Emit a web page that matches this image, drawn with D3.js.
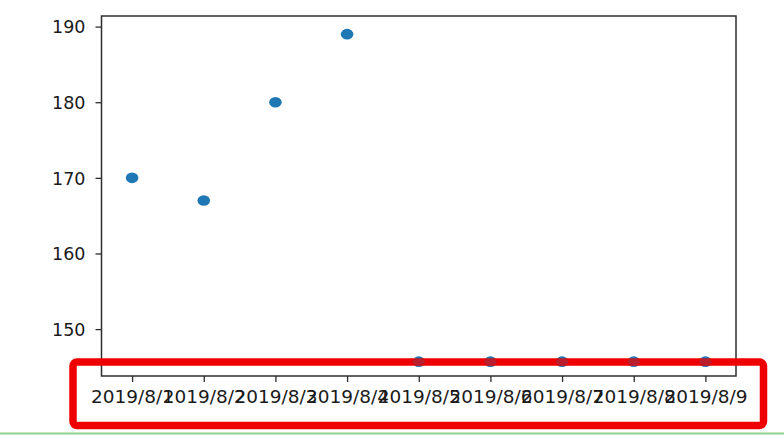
<!DOCTYPE html>
<html>
<head>
<meta charset="utf-8">
<script src="https://cdn.jsdelivr.net/npm/d3@7"></script>
<style>
  html, body { margin: 0; padding: 0; background: #fff; }
  svg { display: block; }
  text { font-family: "DejaVu Sans", sans-serif; }
</style>
</head>
<body>
<svg id="chart" width="784" height="435"></svg>
<script>
// ---- data ----
const dates = ["2019/8/1", "2019/8/2", "2019/8/3", "2019/8/4", "2019/8/5",
               "2019/8/6", "2019/8/7", "2019/8/8", "2019/8/9"];
const values = [170, 167, 180, 189, 145.7, 145.7, 145.7, 145.7, 145.7];
const yTicks = [150, 160, 170, 180, 190];
const yDomain = [143.8, 191.4];

// ---- layout ----
const W = 784, H = 435;
const plot = { left: 101.5, right: 736, top: 16, bottom: 376 };

const svg = d3.select("#chart");

const x = d3.scalePoint()
  .domain(dates)
  .range([plot.left, plot.right])
  .padding(0.427);

const y = d3.scaleLinear()
  .domain(yDomain)
  .range([plot.bottom, plot.top]);

const axisColor = "#2e2e2e";

// y axis
const yAxis = svg.append("g")
  .attr("transform", `translate(${plot.left},0)`)
  .call(d3.axisLeft(y).tickValues(yTicks).tickSize(6).tickPadding(10).tickFormat(d3.format("d")));
yAxis.select(".domain").remove();
yAxis.selectAll(".tick line").attr("stroke", axisColor).attr("stroke-width", 1.3);
yAxis.selectAll(".tick text")
  .attr("fill", "#1a1a1a")
  .style("font-size", "17.5px")
  .attr("dy", "0.36em");

// x axis
const xAxis = svg.append("g")
  .attr("transform", `translate(0,${plot.bottom})`)
  .call(d3.axisBottom(x).tickSize(6).tickPadding(9));
xAxis.select(".domain").remove();
xAxis.selectAll(".tick line").attr("stroke", axisColor).attr("stroke-width", 1.3);
xAxis.selectAll(".tick text")
  .attr("fill", "#1a1a1a")
  .style("font-size", "17.5px")
  .attr("textLength", 83)
  .attr("lengthAdjust", "spacingAndGlyphs");

// frame (spines)
svg.append("rect")
  .attr("x", plot.left)
  .attr("y", plot.top)
  .attr("width", plot.right - plot.left)
  .attr("height", plot.bottom - plot.top)
  .attr("fill", "none")
  .attr("stroke", axisColor)
  .attr("stroke-width", 1.5);

// points
const pts = dates.map((d, i) => ({ date: d, value: values[i] }));
svg.append("g")
  .selectAll("ellipse")
  .data(pts)
  .join("ellipse")
  .attr("cx", d => x(d.date))
  .attr("cy", d => y(d.value))
  .attr("rx", 6.3)
  .attr("ry", 5.3)
  .attr("fill", "#1f77b4");

// red annotation box
svg.append("rect")
  .attr("x", 73)
  .attr("y", 362)
  .attr("width", 690.5)
  .attr("height", 63.5)
  .attr("rx", 4)
  .attr("fill", "none")
  .attr("stroke", "#ee0000")
  .attr("stroke-width", 7.5);

// low points showing faintly through the red box
svg.append("g")
  .selectAll("ellipse")
  .data(pts.filter(d => y(d.value) > 355))
  .join("ellipse")
  .attr("cx", d => x(d.date))
  .attr("cy", d => y(d.value))
  .attr("rx", 6.3)
  .attr("ry", 3.8)
  .attr("fill", "#1f77b4")
  .attr("opacity", 0.25);

// green bottom line
svg.append("line")
  .attr("x1", 0).attr("x2", W)
  .attr("y1", 433.5).attr("y2", 433.5)
  .attr("stroke", "#8fd08f")
  .attr("stroke-width", 2);
</script>
</body>
</html>
